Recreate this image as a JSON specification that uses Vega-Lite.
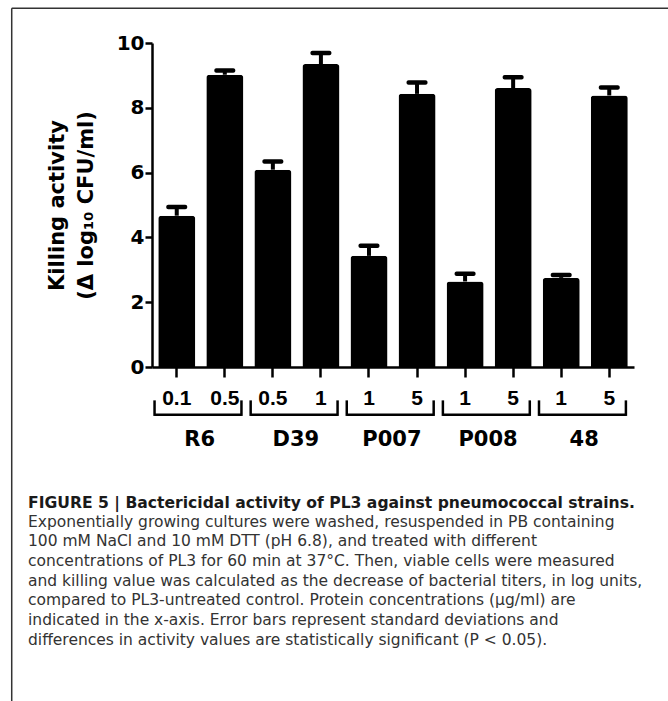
{
  "$schema": "https://vega.github.io/schema/vega-lite/v6.json",
  "width": 482,
  "height": 324,
  "autosize": {"type": "none"},
  "padding": {"left": 152, "top": 43, "right": 34, "bottom": 334},
  "background": "white",
  "config": {"view": {"stroke": null}},
  "datasets": {
    "bars": [
      {"id": "R6|0.1", "strain": "R6", "conc": "0.1", "value": 4.67, "upper": 4.94},
      {"id": "R6|0.5", "strain": "R6", "conc": "0.5", "value": 9.02, "upper": 9.15},
      {"id": "D39|0.5", "strain": "D39", "conc": "0.5", "value": 6.09, "upper": 6.34},
      {"id": "D39|1", "strain": "D39", "conc": "1", "value": 9.35, "upper": 9.69},
      {"id": "P007|1", "strain": "P007", "conc": "1", "value": 3.43, "upper": 3.74},
      {"id": "P007|5", "strain": "P007", "conc": "5", "value": 8.43, "upper": 8.78},
      {"id": "P008|1", "strain": "P008", "conc": "1", "value": 2.64, "upper": 2.88},
      {"id": "P008|5", "strain": "P008", "conc": "5", "value": 8.61, "upper": 8.94},
      {"id": "48|1", "strain": "48", "conc": "1", "value": 2.75, "upper": 2.84},
      {"id": "48|5", "strain": "48", "conc": "5", "value": 8.38, "upper": 8.63}
    ],
    "groups": [
      {"strain": "R6", "first": "R6|0.1", "last": "R6|0.5"},
      {"strain": "D39", "first": "D39|0.5", "last": "D39|1"},
      {"strain": "P007", "first": "P007|1", "last": "P007|5"},
      {"strain": "P008", "first": "P008|1", "last": "P008|5"},
      {"strain": "48", "first": "48|1", "last": "48|5"}
    ],
    "caption": [
      {"heading": "FIGURE 5 | Bactericidal activity of PL3 against pneumococcal strains.",
       "body": [
        "Exponentially growing cultures were washed, resuspended in PB containing",
        "100 mM NaCl and 10 mM DTT (pH 6.8), and treated with different",
        "concentrations of PL3 for 60 min at 37°C. Then, viable cells were measured",
        "and killing value was calculated as the decrease of bacterial titers, in log units,",
        "compared to PL3-untreated control. Protein concentrations (μg/ml) are",
        "indicated in the x-axis. Error bars represent standard deviations and",
        "differences in activity values are statistically significant (P < 0.05)."
       ]}
    ],
    "one": [{"k": 1}]
  },
  "layer": [
    {
      "data": {"name": "bars"},
      "mark": {"type": "bar", "color": "#000000", "cornerRadiusEnd": 3},
      "encoding": {
        "x": {
          "field": "id", "type": "nominal", "sort": null, "title": null,
          "scale": {"type": "band", "paddingInner": 0.23, "paddingOuter": 0.13},
          "axis": {
            "labelExpr": "split(datum.label, '|')[1]",
            "labelAngle": 0,
            "labelFont": "Liberation Sans", "labelFontWeight": "bold", "labelFontSize": 21,
            "labelColor": "#000000", "labelPadding": 10, "labelBaseline": "top",
            "domainColor": "#000000", "domainWidth": 2.5,
            "tickColor": "#000000", "tickWidth": 2.5, "tickSize": 10
          }
        },
        "y": {
          "field": "value", "type": "quantitative",
          "scale": {"domain": [0, 10], "nice": false},
          "axis": {
            "values": [0, 2, 4, 6, 8, 10],
            "grid": false,
            "title": ["Killing activity", "(Δ log₁₀ CFU/ml)"],
            "titleFont": "DejaVu Sans", "titleFontWeight": "bold", "titleFontSize": 21,
            "titleLineHeight": 29, "titleColor": "#000000",
            "titleAngle": 270, "titleBaseline": "top", "titleAlign": "center",
            "titleX": -106, "titleY": 162,
            "labelFont": "DejaVu Sans", "labelFontWeight": "bold", "labelFontSize": 20,
            "labelColor": "#000000", "labelPadding": 1,
            "domainColor": "#000000", "domainWidth": 2.5,
            "tickColor": "#000000", "tickWidth": 2.5, "tickSize": 7
          }
        }
      }
    },
    {
      "data": {"name": "bars"},
      "mark": {"type": "rule", "color": "#000000", "strokeWidth": 4},
      "encoding": {
        "x": {"field": "id", "type": "nominal", "sort": null, "title": null},
        "y": {"field": "value", "type": "quantitative"},
        "y2": {"field": "upper"}
      }
    },
    {
      "data": {"name": "bars"},
      "mark": {"type": "tick", "color": "#000000", "size": 21, "thickness": 4.5, "cornerRadius": 2, "opacity": 1},
      "encoding": {
        "x": {"field": "id", "type": "nominal", "sort": null, "title": null},
        "y": {"field": "upper", "type": "quantitative"}
      }
    },
    {
      "data": {"name": "groups"},
      "mark": {"type": "rule", "color": "#000000", "strokeWidth": 2.5},
      "encoding": {
        "x": {"field": "first", "type": "nominal", "sort": null, "title": null, "bandPosition": -0.1},
        "x2": {"field": "last", "bandPosition": 0.95},
        "y": {"datum": -1.47}
      }
    },
    {
      "data": {"name": "groups"},
      "mark": {"type": "rule", "color": "#000000", "strokeWidth": 2.5},
      "encoding": {
        "x": {"field": "first", "type": "nominal", "sort": null, "title": null, "bandPosition": -0.1},
        "y": {"datum": -1.03},
        "y2": {"datum": -1.51}
      }
    },
    {
      "data": {"name": "groups"},
      "mark": {"type": "rule", "color": "#000000", "strokeWidth": 2.5},
      "encoding": {
        "x": {"field": "last", "type": "nominal", "sort": null, "title": null, "bandPosition": 0.95},
        "y": {"datum": -1.03},
        "y2": {"datum": -1.51}
      }
    },
    {
      "data": {"name": "groups"},
      "mark": {"type": "text", "font": "DejaVu Sans", "fontWeight": "bold", "fontSize": 21, "color": "#000000", "baseline": "middle", "align": "center"},
      "encoding": {
        "x": {"field": "first", "type": "nominal", "sort": null, "title": null, "bandPosition": 1.12},
        "y": {"datum": -2.25},
        "text": {"field": "strain"}
      }
    },
    {
      "data": {"name": "caption"},
      "mark": {"type": "text", "font": "DejaVu Sans", "fontWeight": "bold", "fontSize": 15.6, "color": "#1a1a1a", "baseline": "alphabetic", "align": "left"},
      "encoding": {
        "x": {"datum": "R6|0.1", "bandPosition": -3.52},
        "y": {"datum": -4.356},
        "text": {"field": "heading"}
      }
    },
    {
      "data": {"name": "caption"},
      "mark": {"type": "text", "font": "DejaVu Sans", "fontSize": 15.5, "lineHeight": 19.65, "color": "#333333", "baseline": "alphabetic", "align": "left"},
      "encoding": {
        "x": {"datum": "R6|0.1", "bandPosition": -3.52},
        "y": {"datum": -4.927},
        "text": {"field": "body"}
      }
    },
    {
      "data": {"name": "one"},
      "mark": {"type": "rule", "color": "#333333", "strokeWidth": 1.5},
      "encoding": {
        "x": {"datum": "R6|0.1", "bandPosition": -3.96},
        "x2": {"datum": "48|5", "bandPosition": 2.1},
        "y": {"datum": 11.075}
      }
    },
    {
      "data": {"name": "one"},
      "mark": {"type": "rule", "color": "#333333", "strokeWidth": 1.5},
      "encoding": {
        "x": {"datum": "R6|0.1", "bandPosition": -3.96},
        "y": {"datum": 11.075},
        "y2": {"datum": -10.4}
      }
    }
  ]
}
